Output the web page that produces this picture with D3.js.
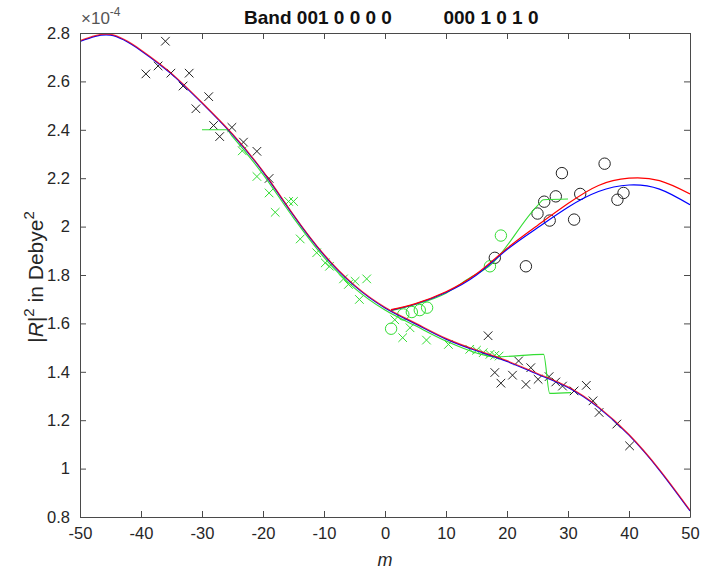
<!DOCTYPE html>
<html>
<head>
<meta charset="utf-8">
<script src="https://cdn.jsdelivr.net/npm/d3@7"></script>
<style>
  html, body { margin: 0; padding: 0; background: #fff; }
  svg { display: block; font-family: "Liberation Sans", Arial, sans-serif; }
</style>
</head>
<body>
<svg id="chart" width="702" height="573"></svg>
<script>
// ---------- data ----------
const titleParts = ["Band 001 0 0 0 0", "000 1 0 1 0"];
const xTicks = [-50, -40, -30, -20, -10, 0, 10, 20, 30, 40, 50];
const xTickLabels = ["-50", "-40", "-30", "-20", "-10", "0", "10", "20", "30", "40", "50"];
const yTicks = [0.8, 1.0, 1.2, 1.4, 1.6, 1.8, 2.0, 2.2, 2.4, 2.6, 2.8];
const yTickLabels = ["0.8", "1", "1.2", "1.4", "1.6", "1.8", "2", "2.2", "2.4", "2.6", "2.8"];

// black crosses (observed, one band)
const blackCrossM = [-39.2, -37.2, -36.0, -35.1, -33.1, -32.1, -31.0, -28.9, -28.1, -27.1, -25.1, -23.2, -21.0, -19.0,
                     16.9, 18.0, 19.0, 20.9, 21.9, 23.1, 23.9, 25.1, 26.9, 28.0, 29.1, 31.0, 33.0, 34.1, 35.1, 38.0, 40.1];
const blackCrossV = [2.631, 2.664, 2.766, 2.634, 2.581, 2.634, 2.487, 2.537, 2.418, 2.372, 2.410, 2.349, 2.311, 2.199,
                     1.549, 1.397, 1.353, 1.386, 1.445, 1.348, 1.417, 1.369, 1.380, 1.358, 1.341, 1.321, 1.344, 1.280, 1.232, 1.184, 1.094];
// black circles (observed, other band)
const blackCircleM = [18.0, 23.1, 25.0, 26.1, 27.0, 28.0, 29.0, 31.0, 32.0, 36.0, 38.1, 39.1];
const blackCircleV = [1.871, 1.836, 2.054, 2.103, 2.025, 2.125, 2.221, 2.029, 2.135, 2.260, 2.111, 2.139];

// green crosses
const greenCrossM = [-23.4, -21.0, -19.0, -18.0, -15.8, -15.0, -13.9, -11.2, -9.8, -9.1, -6.8, -6.0, -4.9, -4.2, -3.0,
                     1.6, 2.9, 4.1, 6.8, 10.4, 13.9, 15.0, 16.1, 17.2, 18.0, 18.7];
const greenCrossV = [2.313, 2.207, 2.139, 2.059, 2.104, 2.104, 1.949, 1.892, 1.850, 1.836, 1.784, 1.761, 1.774, 1.699, 1.784,
                     1.615, 1.541, 1.582, 1.531, 1.513, 1.493, 1.489, 1.479, 1.472, 1.468, 1.465];
// green circles
const greenCircleM = [1.0, 3.0, 4.4, 5.7, 6.9, 17.2, 19.0];
const greenCircleV = [1.578, 1.637, 1.647, 1.655, 1.665, 1.836, 1.963];

// fitted curve, lower/main branch
const fitLowerM = [-50, -45, -40, -35, -30, -25, -20, -15, -10, -5, 0, 5, 10, 15, 20, 25, 30, 35, 40, 45, 50];
const fitLowerBlue = [2.765, 2.791, 2.727, 2.630, 2.510, 2.380, 2.226, 2.046, 1.882, 1.755, 1.664, 1.598, 1.535, 1.487, 1.443, 1.390, 1.335, 1.252, 1.138, 0.993, 0.825];
const fitLowerRed  = [2.768, 2.794, 2.730, 2.633, 2.513, 2.383, 2.229, 2.049, 1.885, 1.758, 1.667, 1.601, 1.538, 1.490, 1.446, 1.393, 1.338, 1.255, 1.141, 0.996, 0.828];
// fitted curve, upper branch
const fitUpperM = [1, 5, 10, 15, 20, 25, 30, 35, 40, 45, 50];
const fitUpperBlue = [1.655, 1.680, 1.728, 1.800, 1.905, 1.995, 2.080, 2.145, 2.172, 2.155, 2.090];
const fitUpperRed  = [1.657, 1.682, 1.731, 1.805, 1.910, 2.005, 2.095, 2.170, 2.200, 2.190, 2.135];

// green interpolation lines
const greenMainM = [-30, -26, -25, -20, -15, -10, -5, 0, 5, 10, 15, 18, 26, 27, 30.5];
const greenMainV = [2.400, 2.400, 2.372, 2.216, 2.036, 1.873, 1.746, 1.655, 1.590, 1.527, 1.478, 1.462, 1.472, 1.311, 1.314];
const greenUpperM = [1, 5, 10, 14, 17, 24.9, 26, 30];
const greenUpperV = [1.652, 1.678, 1.725, 1.790, 1.835, 2.084, 2.111, 2.114];

// ---------- drawing ----------
const svg = d3.select("#chart");
const L = 80, R = 690, T = 33, B = 517;
const x = d3.scaleLinear().domain([-50, 50]).range([L, R]);
const y = d3.scaleLinear().domain([0.8, 2.8]).range([B, T]);
const axisColor = "#4a4a4a";
const textColor = "#262626";

const zip = (a, b) => a.map((d, i) => [d, b[i]]);

const plot = svg.append("g");
const clipId = "clipPlot";
svg.append("defs").append("clipPath").attr("id", clipId)
  .append("rect").attr("x", L).attr("y", T).attr("width", R - L).attr("height", B - T);
const inner = plot.append("g").attr("clip-path", `url(#${clipId})`);

// markers
const cs = 4.3;
function crosses(m, v, color) {
  inner.append("g").selectAll("path").data(zip(m, v)).join("path")
    .attr("d", d => {
      const cx = x(d[0]), cy = y(d[1]);
      return `M${cx - cs},${cy - cs}L${cx + cs},${cy + cs}M${cx - cs},${cy + cs}L${cx + cs},${cy - cs}`;
    })
    .attr("stroke", color).attr("stroke-width", 1).attr("fill", "none");
}
function circles(m, v, color) {
  inner.append("g").selectAll("circle").data(zip(m, v)).join("circle")
    .attr("cx", d => x(d[0])).attr("cy", d => y(d[1])).attr("r", 5.7)
    .attr("stroke", color).attr("stroke-width", 1).attr("fill", "none");
}

const lineNat = d3.line().x(d => x(d[0])).y(d => y(d[1])).curve(d3.curveNatural);
const lineMono = d3.line().x(d => x(d[0])).y(d => y(d[1])).curve(d3.curveMonotoneX);

const green = "#33dd33";
crosses(blackCrossM, blackCrossV, "#222");
circles(blackCircleM, blackCircleV, "#222");
crosses(greenCrossM, greenCrossV, green);
circles(greenCircleM, greenCircleV, green);

inner.append("path").attr("d", lineMono(zip(greenMainM, greenMainV)))
  .attr("fill", "none").attr("stroke", green).attr("stroke-width", 1.1);
inner.append("path").attr("d", lineMono(zip(greenUpperM, greenUpperV)))
  .attr("fill", "none").attr("stroke", green).attr("stroke-width", 1.1);

inner.append("path").attr("d", lineNat(zip(fitLowerM, fitLowerBlue)))
  .attr("fill", "none").attr("stroke", "#0000ff").attr("stroke-width", 1.2);
inner.append("path").attr("d", lineNat(zip(fitUpperM, fitUpperBlue)))
  .attr("fill", "none").attr("stroke", "#0000ff").attr("stroke-width", 1.2);
inner.append("path").attr("d", lineNat(zip(fitLowerM, fitLowerRed)))
  .attr("fill", "none").attr("stroke", "#ff0000").attr("stroke-width", 1.2).attr("stroke-opacity", 0.75);
inner.append("path").attr("d", lineNat(zip(fitUpperM, fitUpperRed)))
  .attr("fill", "none").attr("stroke", "#ff0000").attr("stroke-width", 1.2);

// axes (MATLAB style: inward ticks, full box)
const tk = 6;
const xb = svg.append("g").attr("transform", `translate(0,${B})`)
  .call(d3.axisBottom(x).tickValues(xTicks).tickFormat((d, i) => xTickLabels[i])
        .tickSizeInner(-tk).tickSizeOuter(0).tickPadding(10));
const xt = svg.append("g").attr("transform", `translate(0,${T})`)
  .call(d3.axisTop(x).tickValues(xTicks).tickFormat("").tickSizeInner(-tk).tickSizeOuter(0));
const yl = svg.append("g").attr("transform", `translate(${L},0)`)
  .call(d3.axisLeft(y).tickValues(yTicks).tickFormat((d, i) => yTickLabels[i])
        .tickSizeInner(-tk).tickSizeOuter(0).tickPadding(10));
const yr = svg.append("g").attr("transform", `translate(${R},0)`)
  .call(d3.axisRight(y).tickValues(yTicks).tickFormat("").tickSizeInner(-tk).tickSizeOuter(0));
[xb, xt, yl, yr].forEach(g => {
  g.selectAll(".domain").attr("stroke", axisColor).attr("stroke-width", 1);
  g.selectAll(".tick line").attr("stroke", axisColor).attr("stroke-width", 1);
  g.selectAll("text").attr("fill", textColor).style("font-size", "16.5px")
    .style("font-family", "'Liberation Sans', Arial, sans-serif");
});

// title
const title = svg.append("text").attr("y", 24).attr("text-anchor", "middle")
  .style("font-size", "19px").style("font-weight", "bold").attr("fill", "#111");
title.append("tspan").attr("x", 318).text(titleParts[0]);
title.append("tspan").attr("x", 491).text(titleParts[1]);

// exponent label
const ex = svg.append("text").attr("x", L + 1).attr("y", 24).attr("fill", "#555").style("font-size", "17px");
ex.append("tspan").text("\u00d710");
ex.append("tspan").attr("dy", -8).style("font-size", "12px").text("-4");

// x label
svg.append("text").attr("x", (L + R) / 2).attr("y", 566).attr("text-anchor", "middle")
  .style("font-size", "18px").style("font-style", "italic").attr("fill", textColor).text("m");

// y label
const ylab = svg.append("text").attr("transform", `translate(43,${(T + B) / 2 + 2}) rotate(-90)`)
  .attr("text-anchor", "middle").style("font-size", "21px").attr("fill", textColor);
ylab.append("tspan").text("|");
ylab.append("tspan").style("font-style", "italic").text("R");
ylab.append("tspan").text("|");
ylab.append("tspan").attr("dy", -9).style("font-size", "15px").text("2");
ylab.append("tspan").attr("dy", 9).text(" in Debye");
ylab.append("tspan").attr("dy", -9).style("font-size", "15px").text("2");
</script>
</body>
</html>
